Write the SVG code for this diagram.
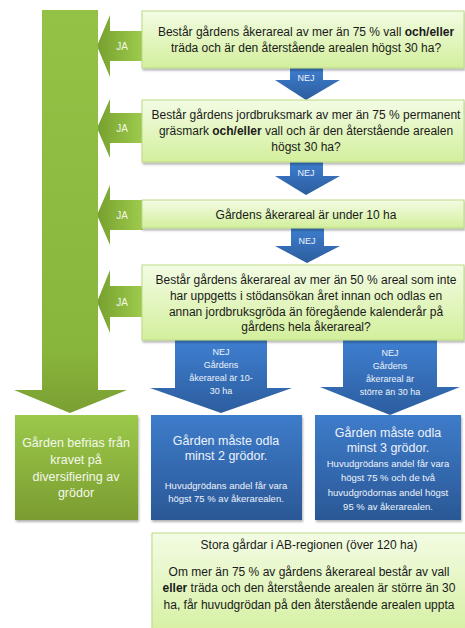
<svg xmlns="http://www.w3.org/2000/svg" width="465" height="628" viewBox="0 0 465 628">
<style>
.q{fill:url(#gq);stroke:#bcd985;stroke-width:1;filter:url(#sh)}
.qt{font-family:"Liberation Sans",Arial,sans-serif;font-size:12px;fill:#1a1a1a;text-anchor:middle}
.ja{fill:url(#gja)}
.jat{font-family:"Liberation Sans",Arial,sans-serif;font-size:10px;fill:#f2f7e6;text-anchor:middle}
.nej{fill:url(#gnej)}
.nt{font-family:"Liberation Sans",Arial,sans-serif;font-size:9px;fill:#eef3fb;text-anchor:middle}
.bb{fill:url(#gbb);filter:url(#sh)}
.bt{font-family:"Liberation Sans",Arial,sans-serif;fill:#eef3fb;text-anchor:middle}
.wt{font-family:"Liberation Sans",Arial,sans-serif;font-size:12.5px;fill:#f4f8ea;text-anchor:middle}
</style>
<defs>
<linearGradient id="gq" x1="0" y1="0" x2="0" y2="1"><stop offset="0" stop-color="#f3fce4"/><stop offset="1" stop-color="#d3ef9c"/></linearGradient>
<linearGradient id="gja" x1="0" y1="0" x2="1" y2="0"><stop offset="0" stop-color="#76a02e"/><stop offset="1" stop-color="#9fcb4e"/></linearGradient>
<linearGradient id="gnej" x1="0" y1="0" x2="0" y2="1"><stop offset="0" stop-color="#3f80d2"/><stop offset="1" stop-color="#2c5d9e"/></linearGradient>
<linearGradient id="gbb" x1="0" y1="0" x2="0" y2="1"><stop offset="0" stop-color="#3e7cca"/><stop offset="1" stop-color="#2a5896"/></linearGradient>
<linearGradient id="gbig" x1="0" y1="0" x2="0" y2="1"><stop offset="0" stop-color="#94c247"/><stop offset="0.85" stop-color="#88b53c"/><stop offset="1" stop-color="#7a9f32"/></linearGradient>
<linearGradient id="ggb" x1="0" y1="0" x2="0" y2="1"><stop offset="0" stop-color="#9bc94b"/><stop offset="1" stop-color="#7b9c30"/></linearGradient>
<filter id="sh" x="-10%" y="-10%" width="120%" height="130%"><feDropShadow dx="1" dy="2" stdDeviation="1.3" flood-color="#000" flood-opacity="0.3"/></filter>
</defs>

<g id="connectors">
<polygon class="ja" points="97,46 110,15 110,31 143,31 143,61 110,61 110,77"/>
<text class="jat" x="122" y="50">JA</text>
<polygon class="ja" points="97,128 110,99 110,113 143,113 143,143 110,143 110,158"/>
<text class="jat" x="122" y="132">JA</text>
<polygon class="ja" points="97,215 110,185 110,200 143,200 143,230 110,230 110,245"/>
<text class="jat" x="122" y="219">JA</text>
<polygon class="ja" points="97,302 110,270 110,286 143,286 143,317 110,317 110,333"/>
<text class="jat" x="122" y="306">JA</text>

<polygon class="nej" points="290,66 323,66 323,80 340,80 306,100 275,80 290,80"/>
<text class="nt" x="306" y="81">NEJ</text>
<polygon class="nej" points="290,160 323,160 323,176 340,176 306,195 275,176 290,176"/>
<text class="nt" x="306" y="176">NEJ</text>
<polygon class="nej" points="291,226 324,226 324,246 340,246 307,263 275,246 291,246"/>
<text class="nt" x="307" y="244">NEJ</text>

<polygon class="nej" points="175,338 267,338 267,388 292,388 221,413 150,388 175,388"/>
<text class="nt" x="221" y="355">NEJ</text>
<text class="nt" x="221" y="368">Gårdens</text>
<text class="nt" x="221" y="381">åkerareal är 10-</text>
<text class="nt" x="221" y="394">30 ha</text>
<polygon class="nej" points="343,338 437,338 437,387 460,387 390,415 320,387 343,387"/>
<text class="nt" x="390" y="356">NEJ</text>
<text class="nt" x="390" y="369">Gårdens</text>
<text class="nt" x="390" y="382">åkerareal är</text>
<text class="nt" x="390" y="395">större än 30 ha</text>

<polygon fill="url(#gbig)" points="42,10 98,10 98,390 127,390 70,413 14,390 42,390"/>
</g>

<g id="q1">
<rect class="q" x="142" y="11" width="322" height="57"/>
<text class="qt" x="306" y="36">Består gårdens åkerareal av mer än 75 % vall <tspan font-weight="bold">och/eller</tspan></text>
<text class="qt" x="306" y="52">träda och är den återstående arealen högst 30 ha?</text>
</g>
<g id="q2">
<rect class="q" x="142" y="100" width="322" height="62"/>
<text class="qt" x="306" y="119">Består gårdens jordbruksmark av mer än 75 % permanent</text>
<text class="qt" x="306" y="135">gräsmark <tspan font-weight="bold">och/eller</tspan> vall och är den återstående arealen</text>
<text class="qt" x="306" y="151">högst 30 ha?</text>
</g>
<g id="q3">
<rect class="q" x="142" y="200" width="322" height="28"/>
<text class="qt" x="306" y="219">Gårdens åkerareal är under 10 ha</text>
</g>
<g id="q4">
<rect class="q" x="142" y="265" width="322" height="75"/>
<text class="qt" x="306" y="284">Består gårdens åkerareal av mer än 50 % areal som inte</text>
<text class="qt" x="306" y="300">har uppgetts i stödansökan året innan och odlas en</text>
<text class="qt" x="306" y="316">annan jordbruksgröda än föregående kalenderår på</text>
<text class="qt" x="306" y="331">gårdens hela åkerareal?</text>
</g>

<g id="exempt">
<rect x="15" y="415" width="123" height="105" fill="url(#ggb)" filter="url(#sh)"/>
<text class="wt" x="76" y="447">Gården befrias från</text>
<text class="wt" x="76" y="464">kravet på</text>
<text class="wt" x="76" y="481">diversifiering av</text>
<text class="wt" x="76" y="497">grödor</text>
</g>
<g id="two-crops">
<rect class="bb" x="151" y="415" width="151" height="105"/>
<text class="bt" x="226" y="445" font-size="12.5">Gården måste odla</text>
<text class="bt" x="226" y="460" font-size="12.5">minst 2 grödor.</text>
<text class="bt" x="226" y="489" font-size="9.5">Huvudgrödans andel får vara</text>
<text class="bt" x="226" y="502" font-size="9.5">högst 75 % av åkerarealen.</text>
</g>
<g id="three-crops">
<rect class="bb" x="315" y="415" width="146" height="105"/>
<text class="bt" x="388" y="437" font-size="12.5">Gården måste odla</text>
<text class="bt" x="388" y="452" font-size="12.5">minst 3 grödor.</text>
<text class="bt" x="388" y="467" font-size="9.5">Huvudgrödans andel får vara</text>
<text class="bt" x="388" y="481" font-size="9.5">högst 75 % och de två</text>
<text class="bt" x="388" y="496" font-size="9.5">huvudgrödornas andel högst</text>
<text class="bt" x="388" y="510" font-size="9.5">95 % av åkerarealen.</text>
</g>
<g id="large-farms">
<rect class="q" x="152" y="533" width="320" height="110"/>
<text class="qt" x="309" y="549" font-size="11.5">Stora gårdar i AB-regionen (över 120 ha)</text>
<text class="qt" x="309" y="576" font-size="11.5">Om mer än 75 % av gårdens åkerareal består av vall</text>
<text class="qt" x="309" y="592" font-size="11.5"><tspan font-weight="bold">eller</tspan> träda och den återstående arealen är större än 30</text>
<text class="qt" x="309" y="609" font-size="11.5">ha, får huvudgrödan på den återstående arealen uppta</text>
</g>
</svg>
